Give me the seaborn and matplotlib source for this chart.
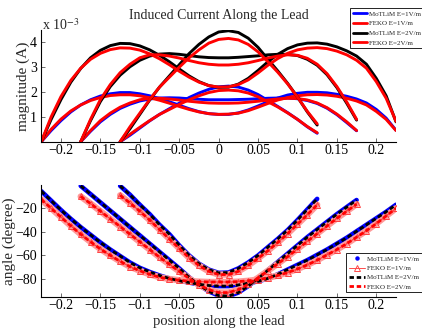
import numpy as np
import pandas as pd
import matplotlib
matplotlib.use("Agg")
import matplotlib.pyplot as plt
from matplotlib.lines import Line2D
import seaborn as sns

sns.set_theme(style="white")
plt.rcParams["font.family"] = ["Liberation Serif", "DejaVu Serif"]
plt.rcParams["mathtext.fontset"] = "stix"

# ---------------- data ----------------
x_l25 = [-0.125, -0.1125, -0.1, -0.0875, -0.075, -0.0625, -0.05, -0.0375, -0.025, -0.0125, 0.0,
         0.0125, 0.025, 0.0375, 0.05, 0.0625, 0.075, 0.0875, 0.1, 0.1125, 0.125]
x_l35 = [-0.175, -0.1625, -0.15, -0.1375, -0.125, -0.1125, -0.1, -0.0875, -0.075, -0.0625, -0.05,
         -0.0375, -0.025, -0.0125, 0.0, 0.0125, 0.025, 0.0375, 0.05, 0.0625, 0.075, 0.0875, 0.1,
         0.1125, 0.125, 0.1375, 0.15, 0.1625, 0.175]
x_l45 = [-0.225, -0.2125, -0.2, -0.1875, -0.175, -0.1625, -0.15, -0.1375, -0.125, -0.1125, -0.1,
         -0.0875, -0.075, -0.0625, -0.05, -0.0375, -0.025, -0.0125, 0.0, 0.0125, 0.025, 0.0375,
         0.05, 0.0625, 0.075, 0.0875, 0.1, 0.1125, 0.125, 0.1375, 0.15, 0.1625, 0.175, 0.1875,
         0.2, 0.2125, 0.225]

# magnitude, units of 1e-3 A
mag_motlim_e1_l25 = [0, 0.26, 0.55, 0.84, 1.10, 1.33, 1.55, 1.78, 1.96, 2.11, 2.21, 2.24, 2.20, 2.08,
                     1.90, 1.66, 1.42, 1.17, 0.90, 0.60, 0.34]
mag_feko_e1_l25 = [0, 0.30, 0.58, 0.85, 1.10, 1.30, 1.50, 1.69, 1.85, 1.98, 2.06, 2.08, 2.05, 1.96,
                   1.81, 1.61, 1.40, 1.16, 0.90, 0.61, 0.36]
mag_motlim_e2_l25 = [0, 0.52, 1.10, 1.68, 2.20, 2.65, 3.10, 3.55, 3.92, 4.22, 4.42, 4.47, 4.40, 4.17,
                     3.80, 3.32, 2.85, 2.35, 1.80, 1.20, 0.67]
mag_feko_e2_l25 = [0, 0.60, 1.15, 1.70, 2.20, 2.60, 3.00, 3.38, 3.70, 3.97, 4.12, 4.16, 4.10, 3.92,
                   3.62, 3.22, 2.80, 2.33, 1.80, 1.22, 0.72]

mag_motlim_e1_l35 = [0, 0.42, 0.80, 1.10, 1.34, 1.51, 1.64, 1.72, 1.76, 1.77, 1.76, 1.73, 1.71, 1.69,
                     1.69, 1.69, 1.70, 1.71, 1.73, 1.75, 1.76, 1.76, 1.73, 1.66, 1.54, 1.35, 1.09,
                     0.77, 0.44]
mag_feko_e1_l35 = [0, 0.45, 0.85, 1.15, 1.39, 1.56, 1.69, 1.75, 1.75, 1.72, 1.68, 1.63, 1.59, 1.56,
                   1.55, 1.55, 1.56, 1.59, 1.63, 1.68, 1.72, 1.75, 1.74, 1.68, 1.56, 1.37, 1.11,
                   0.80, 0.45]
mag_motlim_e2_l35 = [0, 0.85, 1.62, 2.22, 2.68, 3.02, 3.28, 3.45, 3.53, 3.55, 3.52, 3.47, 3.42, 3.39,
                     3.38, 3.38, 3.40, 3.43, 3.46, 3.50, 3.52, 3.52, 3.47, 3.32, 3.08, 2.70, 2.18,
                     1.55, 0.87]
mag_feko_e2_l35 = [0, 0.90, 1.70, 2.30, 2.78, 3.12, 3.38, 3.50, 3.50, 3.45, 3.37, 3.27, 3.18, 3.12,
                   3.09, 3.09, 3.12, 3.18, 3.27, 3.37, 3.45, 3.50, 3.48, 3.36, 3.12, 2.74, 2.22,
                   1.60, 0.90]

mag_motlim_e1_l45 = [0, 0.45, 0.85, 1.20, 1.48, 1.69, 1.84, 1.93, 1.98, 1.98, 1.93, 1.85, 1.74, 1.61,
                     1.47, 1.33, 1.21, 1.13, 1.10, 1.10, 1.16, 1.28, 1.44, 1.61, 1.76, 1.88, 1.95,
                     1.99, 1.99, 1.97, 1.91, 1.83, 1.72, 1.56, 1.30, 0.95, 0.46]
mag_feko_e1_l45 = [0, 0.50, 0.91, 1.24, 1.48, 1.66, 1.78, 1.86, 1.89, 1.89, 1.85, 1.77, 1.67, 1.55,
                   1.42, 1.30, 1.20, 1.13, 1.10, 1.11, 1.15, 1.25, 1.39, 1.54, 1.68, 1.78, 1.85,
                   1.89, 1.90, 1.88, 1.83, 1.75, 1.64, 1.48, 1.22, 0.90, 0.45]
mag_motlim_e2_l45 = [0, 0.90, 1.70, 2.40, 2.95, 3.38, 3.68, 3.87, 3.96, 3.95, 3.86, 3.70, 3.48, 3.22,
                     2.93, 2.65, 2.42, 2.26, 2.19, 2.20, 2.32, 2.55, 2.87, 3.22, 3.52, 3.75, 3.90,
                     3.97, 3.98, 3.93, 3.82, 3.66, 3.45, 3.12, 2.55, 1.85, 0.80]
mag_feko_e2_l45 = [0, 1.00, 1.82, 2.47, 2.96, 3.32, 3.56, 3.71, 3.78, 3.77, 3.69, 3.54, 3.34, 3.10,
                   2.84, 2.60, 2.40, 2.26, 2.20, 2.21, 2.30, 2.49, 2.77, 3.08, 3.35, 3.56, 3.70,
                   3.77, 3.79, 3.75, 3.65, 3.50, 3.28, 2.96, 2.42, 1.75, 0.82]

# phase, degrees (same for E=1 and E=2 V/m)
ph_motlim_l25 = [-1, -8.5, -17, -25, -34, -42, -51.5, -60, -67, -72, -74.8, -74.5, -71, -66, -60,
                 -53, -46, -38.5, -30, -21, -12]
ph_feko_l25 = [-9, -15.5, -22.5, -30, -38, -46, -54, -62, -68.5, -73.5, -76.2, -76.2, -73.5, -68.5,
               -62.5, -56, -49, -41.5, -33.5, -25.5, -17]
ph_motlim_l35 = [-1, -8, -15, -22, -29, -36, -43, -50, -57, -64, -71, -78.5, -85, -90.5, -94, -94.5,
                 -91.5, -86, -79.5, -72.5, -65.5, -58.5, -51.5, -44.5, -38, -31.5, -25, -19, -13]
ph_feko_l35 = [-10, -16, -22.5, -29, -35.5, -42, -48.5, -55, -61.5, -67.5, -73.5, -79.5, -85, -89,
               -91.5, -91.5, -89, -84.5, -79, -73, -67, -61, -54.5, -48, -41.5, -35, -28.5, -22.5,
               -16.5]
ph_motlim_l45 = [-5.5, -13.5, -21.5, -29, -36, -42.5, -49, -55, -60.5, -66, -70.5, -74, -77, -79.5,
                 -81.5, -83, -84.5, -85.5, -86, -86, -85, -83.5, -82, -79.5, -76, -72, -68, -64,
                 -59.5, -55, -50, -45, -39.5, -34, -28.5, -23, -17]
ph_feko_l45 = [-12.5, -20, -27.5, -35, -42, -48.5, -54.5, -60, -65, -69.5, -73, -76, -78.5, -80,
               -81, -81.8, -82.2, -82.5, -82.5, -82.5, -82.2, -81.5, -80.5, -79, -77, -74.5, -71.5,
               -68, -64, -59.5, -55, -50, -44.5, -39, -33, -26.5, -20]

legend_labels = ["MoTLiM E=1V/m", "FEKO E=1V/m", "MoTLiM E=2V/m", "FEKO E=2V/m"]
x_ticks = [-0.2, -0.15, -0.1, -0.05, 0, 0.05, 0.1, 0.15, 0.2]
x_tick_labels = ["\u22120.2", "\u22120.15", "\u22120.1", "\u22120.05", "0", "0.05", "0.1", "0.15", "0.2"]
mag_ticks = [1, 2, 3, 4]
ph_ticks = [-80, -60, -40, -20]


def frame(xs_list, ys_list):
    parts = []
    for lead, (xs, ys) in enumerate(zip(xs_list, ys_list)):
        parts.append(pd.DataFrame({"x": xs, "y": ys, "lead": lead}))
    return pd.concat(parts, ignore_index=True)


xs_all = [x_l25, x_l35, x_l45]
mag_e1_m = frame(xs_all, [mag_motlim_e1_l25, mag_motlim_e1_l35, mag_motlim_e1_l45])
mag_e1_f = frame(xs_all, [mag_feko_e1_l25, mag_feko_e1_l35, mag_feko_e1_l45])
mag_e2_m = frame(xs_all, [mag_motlim_e2_l25, mag_motlim_e2_l35, mag_motlim_e2_l45])
mag_e2_f = frame(xs_all, [mag_feko_e2_l25, mag_feko_e2_l35, mag_feko_e2_l45])
ph_m = frame(xs_all, [ph_motlim_l25, ph_motlim_l35, ph_motlim_l45])
ph_f = frame(xs_all, [ph_feko_l25, ph_feko_l35, ph_feko_l45])

W, H = 422, 329
fig = plt.figure(figsize=(W / 100, H / 100), dpi=100)
ax1 = fig.add_axes([41.3 / W, 1 - 141.7 / H, 354.7 / W, 111.7 / H])
ax2 = fig.add_axes([41.3 / W, 1 - 297.3 / H, 354.7 / W, 112.6 / H])

BLUE, RED, BLACK = "#0000ff", "#ff0000", "#000000"

# ---------------- magnitude ----------------
common = dict(x="x", y="y", units="lead", estimator=None, sort=False, legend=False)
sns.lineplot(data=mag_e1_m, color=BLUE, lw=2.1, ax=ax1, **common)
sns.lineplot(data=mag_e1_f, color=RED, lw=2.1, ax=ax1, **common)
sns.lineplot(data=mag_e2_m, color=BLACK, lw=2.1, ax=ax1, **common)
sns.lineplot(data=mag_e2_f, color=RED, lw=2.1, ax=ax1, **common)

# ---------------- phase ----------------
sns.lineplot(data=ph_m, color=BLUE, lw=3.3, ax=ax2, **common)
# pinkish band formed in the original by the densely packed FEKO triangle markers
sns.lineplot(data=ph_f, color="#ff9a9a", lw=4.6, ax=ax2, **common)
sns.lineplot(data=ph_f, color="#ff3a3a", lw=0.8, marker="^", markersize=4.5,
             markerfacecolor="none", markeredgecolor="#ff4040", markeredgewidth=0.7,
             ax=ax2, **common)
n1 = len(ax2.lines)
sns.lineplot(data=ph_m, color=BLACK, lw=2.0, ax=ax2, **common)
sns.lineplot(data=ph_f, color=RED, lw=2.0, ax=ax2, **common)
for ln in ax2.lines[n1:]:
    ln.set_dashes((1.6, 1.0))

for ax in (ax1, ax2):
    ax.set_xlim(-0.225, 0.225)
    ax.set_xticks(x_ticks)
    ax.set_xticklabels(x_tick_labels)
    ax.spines["top"].set_visible(False)
    ax.spines["right"].set_visible(False)
    for s in ("left", "bottom"):
        ax.spines[s].set_color("black")
        ax.spines[s].set_linewidth(0.8)
    ax.tick_params(direction="in", length=3, width=0.6, color="#555555", labelsize=10,
                   bottom=True, left=True, labelcolor="black")
    ax.tick_params(axis="x", pad=1.5)
    ax.tick_params(axis="y", pad=3)
    ax.set_xlabel("")
    ax.set_ylabel("")
    ax.set_facecolor("white")

ax1.set_ylim(0, 4.5)
ax1.set_yticks(mag_ticks)
ax2.set_ylim(-95.5, 0)
ax2.set_yticks(ph_ticks)

ax1.set_ylabel("magnitude (A)", fontsize=11)
ax1.yaxis.set_label_coords(-0.033, 0.5)
ax2.set_ylabel("angle (degree)", fontsize=11)
ax2.yaxis.set_label_coords(-0.072, 0.5)
ax2.set_xlabel("position along the lead", fontsize=10.5, labelpad=0)
ax2.xaxis.set_label_coords(0.5, -0.158)

fig.text(218.7 / W, 1 - 19.5 / H, "Induced Current Along the Lead", ha="center",
         va="baseline", fontsize=10)
fig.text(42 / W, 1 - 29.5 / H, "x 10$^{-3}$", ha="left", va="baseline", fontsize=10)

# ---------------- legends ----------------
h_top = [Line2D([], [], color=BLUE, lw=2), Line2D([], [], color=RED, lw=2),
         Line2D([], [], color=BLACK, lw=2), Line2D([], [], color=RED, lw=2)]
leg1 = ax1.legend(h_top, legend_labels, loc="upper left", bbox_to_anchor=(350 / W, 1 - 8 / H),
                  bbox_transform=fig.transFigure, fontsize=5, frameon=True, fancybox=False,
                  edgecolor="black", framealpha=1, borderaxespad=0, borderpad=0.4,
                  labelspacing=0.55, handlelength=2.1, handletextpad=0.3)
leg1.get_frame().set_linewidth(0.6)

h_bot = [Line2D([], [], color=BLUE, ls="none", marker="o", markersize=2.2),
         Line2D([], [], color="#ff4a4a", lw=0.7, marker="^", markersize=4,
                markerfacecolor="none", markeredgewidth=0.7),
         Line2D([], [], color=BLACK, lw=2, dashes=(1.6, 1.0)),
         Line2D([], [], color=RED, lw=2, dashes=(1.6, 1.0))]
leg2 = ax2.legend(h_bot, legend_labels, loc="upper left", bbox_to_anchor=(346 / W, 1 - 253 / H),
                  bbox_transform=fig.transFigure, fontsize=5, frameon=True, fancybox=False,
                  edgecolor="black", framealpha=1, borderaxespad=0, borderpad=0.4,
                  labelspacing=0.5, handlelength=2.3, handletextpad=0.3)
leg2.get_frame().set_linewidth(0.6)

fig.savefig("out.png", dpi=100)
